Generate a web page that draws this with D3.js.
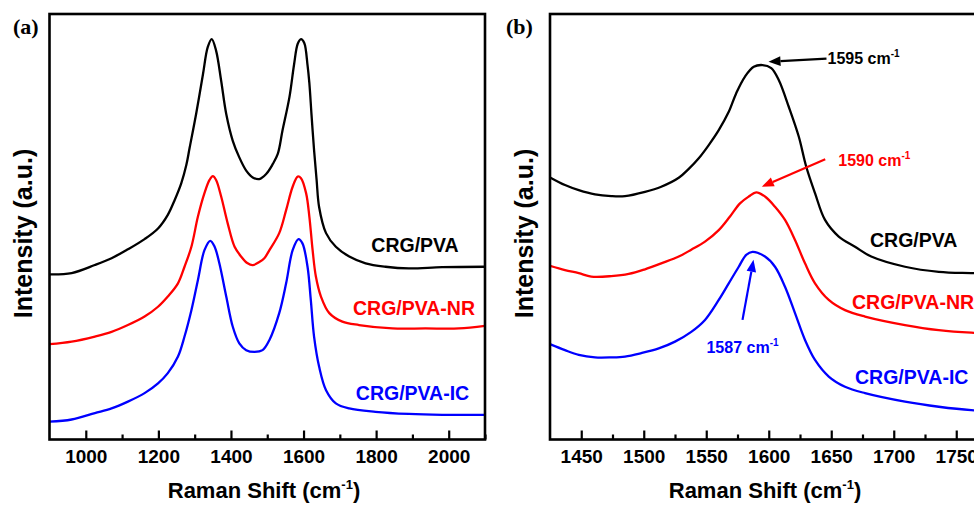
<!DOCTYPE html>
<html>
<head>
<meta charset="utf-8">
<script src="https://cdn.jsdelivr.net/npm/d3@7"></script>
<style>
  body { margin: 0; background: #fff; }
  svg { display: block; font-family: "Liberation Sans", Arial, sans-serif; }
</style>
</head>
<body>
<svg id="chart" width="974" height="505"></svg>
<script>
// ---- Panel (a): full Raman spectra, [shift cm-1, intensity a.u.] ----
const fullPVA = [[900,38.8],[961,39.1],[1025,41.0],[1071,42.6],[1116,44.7],[1162,47.1],[1199,49.6],[1226,52.8],[1245,56.3],[1263,60.2],[1277,64.5],[1286,68.5],[1304,76.5],[1323,85.9],[1336,92.2],[1347,94.1],[1359,91.4],[1373,84.3],[1387,76.5],[1405,70.2],[1423,66.3],[1442,63.2],[1460,61.6],[1478,61.2],[1497,62.4],[1515,64.7],[1529,67.1],[1542,72.6],[1561,80.4],[1574,88.2],[1584,93.0],[1593,94.1],[1602,93.2],[1611,88.0],[1616,83.8],[1622,76.3],[1629,68.0],[1636,61.0],[1643,54.6],[1662,48.5],[1689,45.3],[1726,43.0],[1771,41.4],[1826,40.6],[1890,40.2],[1982,40.5],[2100,40.6]];
const fullPVA_NR = [[900,22.4],[961,23.0],[1025,24.2],[1071,25.3],[1116,26.9],[1162,28.9],[1199,31.2],[1226,33.6],[1254,36.7],[1272,40.6],[1291,45.3],[1309,52.4],[1327,57.9],[1341,61.0],[1350,61.9],[1359,61.0],[1373,57.1],[1391,50.8],[1410,45.3],[1428,43.0],[1446,41.4],[1460,41.0],[1478,41.7],[1492,42.6],[1506,44.5],[1533,48.5],[1552,53.9],[1570,59.4],[1584,61.8],[1593,61.4],[1607,57.9],[1616,52.4],[1625,44.5],[1634,38.3],[1648,33.6],[1671,29.7],[1707,27.7],[1753,26.9],[1845,26.1],[1936,26.1],[2028,26.1],[2100,26.7]];
const fullPVA_IC = [[900,4.2],[961,4.7],[1025,6.2],[1071,7.3],[1116,8.9],[1162,10.9],[1199,13.2],[1226,15.6],[1254,19.5],[1272,24.2],[1291,30.4],[1309,37.5],[1327,44.5],[1343,46.7],[1355,45.3],[1368,41.4],[1387,33.6],[1405,26.5],[1423,22.6],[1442,21.0],[1465,20.6],[1487,21.0],[1506,23.4],[1533,29.7],[1552,36.7],[1570,44.5],[1586,47.1],[1597,46.1],[1611,40.6],[1620,32.8],[1629,24.2],[1643,17.1],[1662,11.6],[1689,8.5],[1726,7.3],[1798,6.5],[1890,6.0],[1982,5.8],[2100,5.8]];

// ---- Panel (b): G-band region ----
const gbandPVA = [[1425,61.6],[1437,59.8],[1448,58.6],[1461,57.6],[1474,57.2],[1485,57.2],[1501,58.2],[1514,59.4],[1528,61.5],[1536,63.6],[1544,66.1],[1552,69.2],[1560,72.7],[1568,77.0],[1574,81.4],[1581,85.3],[1588,87.6],[1595,88.0],[1602,87.3],[1608,84.5],[1616,78.2],[1624,71.2],[1630,64.1],[1637,57.9],[1645,51.6],[1656,47.7],[1669,45.3],[1682,43.0],[1709,40.6],[1736,39.4],[1762,39.1],[1800,38.9]];
const gbandPVA_NR = [[1425,40.8],[1437,39.8],[1448,39.1],[1458,38.3],[1474,38.4],[1488,38.9],[1501,40.0],[1514,41.4],[1528,43.0],[1538,44.6],[1549,46.5],[1560,49.2],[1569,52.4],[1577,55.5],[1584,57.1],[1590,58.1],[1597,57.1],[1605,54.7],[1613,51.6],[1621,46.9],[1629,41.4],[1637,36.7],[1648,32.8],[1661,30.4],[1677,28.9],[1709,26.9],[1736,25.7],[1762,25.1],[1800,24.8]];
const gbandPVA_IC = [[1425,22.4],[1437,21.0],[1448,19.9],[1461,19.3],[1474,19.3],[1485,19.5],[1498,20.3],[1512,21.4],[1525,23.0],[1538,25.3],[1549,28.1],[1560,32.8],[1568,36.7],[1576,40.6],[1582,43.4],[1587,44.1],[1597,43.0],[1605,40.6],[1613,35.9],[1621,29.7],[1629,23.4],[1637,18.7],[1648,14.8],[1661,12.4],[1677,10.9],[1709,8.9],[1736,7.7],[1762,6.9],[1800,6.5]];

const seriesNames = ["CRG/PVA", "CRG/PVA-NR", "CRG/PVA-IC"];
const seriesColors = ["#000000", "#ff0000", "#0000ff"];
const gPeaks = [1595, 1590, 1587];

const ticksA = [1000, 1200, 1400, 1600, 1800, 2000];
const minorA = [1100, 1300, 1500, 1700, 1900, 2100];
const ticksB = [1450, 1500, 1550, 1600, 1650, 1700, 1750];
const minorB = [1475, 1525, 1575, 1625, 1675, 1725, 1775];

const svg = d3.select("#chart");
const plotTop = 14, plotBottom = 439.5;
const y = d3.scaleLinear().domain([0, 100]).range([plotBottom, plotTop]);

function panel(opts) {
  const x = d3.scaleLinear().domain(opts.domain).range(opts.range);
  const g = svg.append("g");
  const clipId = "clip-" + opts.id;
  g.append("clipPath").attr("id", clipId)
    .append("rect").attr("x", opts.range[0]).attr("y", plotTop)
    .attr("width", opts.range[1] - opts.range[0]).attr("height", plotBottom - plotTop);

  const line = d3.line().x(d => x(d[0])).y(d => y(d[1])).curve(d3.curveCatmullRom.alpha(0.5));
  g.append("g").attr("clip-path", `url(#${clipId})`)
    .selectAll("path").data(opts.series).join("path")
    .attr("d", d => line(d))
    .attr("fill", "none")
    .attr("stroke", (d, i) => seriesColors[i])
    .attr("stroke-width", 2.3)
    .attr("stroke-linejoin", "round");

  // bottom axis with inward ticks
  const ax = g.append("g").attr("transform", `translate(0,${plotBottom})`)
    .call(d3.axisBottom(x).tickValues(opts.ticks).tickSizeInner(-9).tickSizeOuter(0).tickPadding(10).tickFormat(d3.format("d")));
  ax.select(".domain").remove();
  ax.selectAll(".tick line").attr("stroke", "#000").attr("stroke-width", 2.2);
  ax.selectAll(".tick text").attr("font-size", 19).attr("font-weight", "bold")
    .attr("font-family", "'Liberation Sans', Arial, sans-serif").attr("fill", "#000");
  const mx = g.append("g").attr("transform", `translate(0,${plotBottom})`)
    .call(d3.axisBottom(x).tickValues(opts.minor).tickSizeInner(-5).tickSizeOuter(0).tickFormat(""));
  mx.select(".domain").remove();
  mx.selectAll(".tick line").attr("stroke", "#000").attr("stroke-width", 2.2);

  // frame
  g.append("rect").attr("x", opts.range[0]).attr("y", plotTop)
    .attr("width", opts.range[1] - opts.range[0]).attr("height", plotBottom - plotTop)
    .attr("fill", "none").attr("stroke", "#000").attr("stroke-width", 2.6);

  // axis titles
  const xt = g.append("text").attr("x", opts.titleX).attr("y", 498)
    .attr("text-anchor", "middle").attr("font-size", 22).attr("font-weight", "bold");
  xt.append("tspan").text("Raman Shift (cm");
  xt.append("tspan").attr("font-size", 13).attr("dy", -9).text("-1");
  xt.append("tspan").attr("dy", 9).text(")");

  g.append("text").attr("transform", `translate(${opts.yTitleX},233.5) rotate(-90)`)
    .attr("text-anchor", "middle").attr("font-size", 25).attr("font-weight", "bold")
    .text("Intensity (a.u.)");

  g.append("text").attr("x", opts.tagX).attr("y", 34)
    .attr("font-family", "'Liberation Serif', 'Times New Roman', serif")
    .attr("font-size", 22).attr("font-weight", "bold").text(opts.tag);

  // series labels
  opts.labels.forEach((p, i) => {
    g.append("text").attr("x", p[0]).attr("y", p[1]).attr("dy", "0.35em")
      .attr("text-anchor", p[2]).attr("font-size", 19.5).attr("font-weight", "bold")
      .attr("fill", seriesColors[i]).text(seriesNames[i]);
  });
  return { x, g };
}

panel({
  id: "a", domain: [900, 2100], range: [49.5, 485],
  series: [fullPVA, fullPVA_NR, fullPVA_IC], ticks: ticksA, minor: minorA,
  titleX: 264, yTitleX: 32, tag: "(a)", tagX: 13,
  labels: [[415, 245, "middle"], [414, 308.5, "middle"], [412.5, 393.5, "middle"]]
});

const pb = panel({
  id: "b", domain: [1425, 1800], range: [550, 1018.75],
  series: [gbandPVA, gbandPVA_NR, gbandPVA_IC], ticks: ticksB, minor: minorB,
  titleX: 765, yTitleX: 533, tag: "(b)", tagX: 506,
  labels: [[870, 240, "start"], [852, 302, "start"], [855, 377, "start"]]
});

// peak-position annotations with arrows
function arrow(g, x1, y1, x2, y2, color) {
  const ang = Math.atan2(y2 - y1, x2 - x1), len = 12, hw = 4.8;
  const bx = x2 - len * Math.cos(ang), by = y2 - len * Math.sin(ang);
  g.append("line").attr("x1", x1).attr("y1", y1).attr("x2", bx).attr("y2", by)
    .attr("stroke", color).attr("stroke-width", 2.2);
  const px = -Math.sin(ang) * hw, py = Math.cos(ang) * hw;
  g.append("path").attr("d", `M${x2},${y2}L${bx + px},${by + py}L${bx - px},${by - py}Z`).attr("fill", color);
}
function peakLabel(g, x, yy, anchor, val, color) {
  const t = g.append("text").attr("x", x).attr("y", yy).attr("dy", "0.35em")
    .attr("text-anchor", anchor).attr("font-size", 16).attr("font-weight", "bold").attr("fill", color);
  t.append("tspan").text(val + " cm");
  t.append("tspan").attr("font-size", 10).attr("dy", -7).text("-1");
}
const gb = pb.g, xb = pb.x;
const peakY = [88.0, 58.1, 44.1];
// CRG/PVA
arrow(gb, xb(gPeaks[0]) + 64, y(peakY[0]) - 6.5, xb(gPeaks[0]) + 6, y(peakY[0]) - 3.3, seriesColors[0]);
peakLabel(gb, xb(gPeaks[0]) + 65, y(peakY[0]) - 6.5, "start", gPeaks[0], seriesColors[0]);
// CRG/PVA-NR
arrow(gb, xb(gPeaks[1]) + 69, y(peakY[1]) - 33, xb(gPeaks[1]) + 5.5, y(peakY[1]) - 5.6, seriesColors[1]);
peakLabel(gb, xb(gPeaks[1]) + 82, y(peakY[1]) - 32, "start", gPeaks[1], seriesColors[1]);
// CRG/PVA-IC
arrow(gb, xb(gPeaks[2]) - 10, y(peakY[2]) + 68, xb(gPeaks[2]) + 1, y(peakY[2]) + 8, seriesColors[2]);
peakLabel(gb, xb(gPeaks[2]) - 10, y(peakY[2]) + 96, "middle", gPeaks[2], seriesColors[2]);
</script>
</body>
</html>
